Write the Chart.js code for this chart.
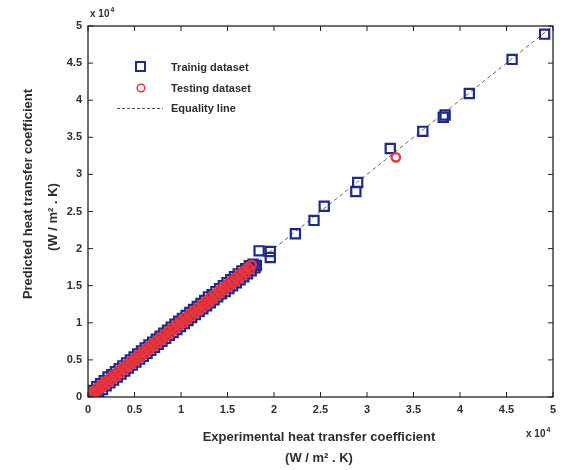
<!DOCTYPE html>
<html>
<head>
<meta charset="utf-8">
<script src="https://cdn.jsdelivr.net/npm/chart.js@4/dist/chart.umd.min.js"></script>
<style>
html,body{margin:0;padding:0;background:#fff;}
#wrap{width:563px;height:470px;position:relative;}
</style>
</head>
<body>
<div id="wrap"><canvas id="c" width="563" height="470"></canvas></div>
<script>
// Axis ticks (W/m2.K), labels shown in units of 10^4
const tickValues = [0, 5000, 10000, 15000, 20000, 25000, 30000, 35000, 40000, 45000, 50000];
const legendLabels = ["Trainig dataset", "Testing dataset", "Equality line"];
const xTitle = ["Experimental heat transfer coefficient", "(W / m\u00B2 . K)"];
const yTitle = ["Predicted heat transfer coefficient", "(W / m\u00B2 . K)"];

// Training dataset [experimental, predicted]
const trainingData = [
  [150,450],[350,50],[550,900],[750,300],[950,1400],[1150,700],[1350,1800],[1550,1000],
  [1750,2200],[1950,1500],[2150,2700],[2350,1900],[2550,3000],[2750,2300],[2950,3400],[3150,2700],
  [3350,3800],[3550,3100],[3750,4200],[3950,3500],[4150,4600],[4350,3900],[4550,5000],[4750,4300],
  [4950,5400],[5150,4700],[5350,5800],[5550,5100],[5750,6200],[5950,5500],[6150,6600],[6350,5900],
  [6550,7000],[6750,6300],[6950,7400],[7150,6700],[7350,7800],[7550,7100],[7750,8200],[7950,7500],
  [8150,8600],[8350,7900],[8550,9000],[8750,8300],[8950,9400],[9150,8700],[9350,9800],[9550,9100],
  [9750,10200],[9950,9500],[10150,10600],[10350,9900],[10550,11000],[10750,10300],[10950,11400],[11150,10700],
  [11350,11800],[11550,11100],[11750,12200],[11950,11500],[12150,12600],[12350,11900],[12550,13000],[12750,12300],
  [12950,13500],[13150,12700],[13350,13800],[13550,13100],[13750,14200],[13950,13500],[14150,14600],[14350,13900],
  [14550,15000],[14750,14200],[14950,15400],[15150,14600],[15350,15800],[15550,15000],[15750,16200],[15950,15400],
  [16150,16600],[16350,15800],[16550,17000],[16750,16200],[16950,17300],[17150,16600],[17350,17700],[17550,17000],
  [17750,17900],[17950,17400],[18100,17700],
  [18400,19700],[19600,19600],[19600,18800],[22300,22000],[24300,23800],[25400,25700],
  [28800,27700],[29000,28900],[32500,33500],[36000,35800],[38200,37700],[38400,38000],
  [41000,40900],[45600,45500],[49100,48900]
];
// Testing dataset [experimental, predicted]
const testingData = [
  [100,50],[250,400],[400,200],[600,750],[800,600],[1000,1250],[1200,1000],[1450,1700],
  [1650,1400],[1900,2150],[2100,1850],[2350,2600],[2550,2300],[2800,3050],[3000,2750],[3250,3500],
  [3450,3200],[3700,3950],[3900,3650],[4150,4400],[4350,4100],[4600,4850],[4800,4550],[5050,5300],
  [5250,5000],[5500,5750],[5700,5450],[5950,6200],[6150,5900],[6400,6650],[6600,6350],[6850,7100],
  [7050,6800],[7300,7550],[7500,7250],[7750,8000],[7950,7700],[8200,8450],[8400,8150],[8650,8900],
  [8850,8600],[9100,9350],[9300,9050],[9550,9800],[9750,9500],[10000,10250],[10200,9950],[10450,10700],
  [10650,10400],[10900,11150],[11100,10850],[11350,11600],[11550,11300],[11800,12050],[12000,11750],[12250,12500],
  [12450,12200],[12700,12950],[12900,12650],[13150,13400],[13350,13100],[13600,13850],[13800,13550],[14050,14300],
  [14250,14000],[14500,14750],[14700,14450],[14950,15200],[15150,14900],[15400,15650],[15600,15350],[15850,16100],
  [16050,15800],[16300,16550],[16500,16250],[16750,17000],[16950,16700],[17200,17450],[17400,17200],[17600,17800],
  [33100,32300]
];
// Equality line endpoints
const equalityLine = [[0,0],[50000,50000]];

const BLUE = "#1b2a8c", RED = "#e8343c", TXT = "#2e2e2e";
const FONT = "'Liberation Sans', Arial, sans-serif";
const toXY = a => a.map(p => ({x:p[0], y:p[1]}));

const decor = {
  id: "decor",
  afterDraw(chart) {
    const ctx = chart.ctx, a = chart.chartArea, sx = chart.scales.x, sy = chart.scales.y;
    ctx.save();
    ctx.strokeStyle = "#222"; ctx.lineWidth = 1.3;
    ctx.strokeRect(a.left, a.top, a.right - a.left, a.bottom - a.top);
    ctx.lineWidth = 1;
    tickValues.forEach(v => {
      const px = sx.getPixelForValue(v), py = sy.getPixelForValue(v);
      ctx.beginPath();
      ctx.moveTo(px, a.bottom); ctx.lineTo(px, a.bottom - 5);
      ctx.moveTo(px, a.top); ctx.lineTo(px, a.top + 5);
      ctx.moveTo(a.left, py); ctx.lineTo(a.left + 5, py);
      ctx.moveTo(a.right, py); ctx.lineTo(a.right - 5, py);
      ctx.stroke();
    });
    ctx.fillStyle = TXT;
    const expo = (x, y) => {
      ctx.font = "bold 10px " + FONT; ctx.textAlign = "left"; ctx.textBaseline = "alphabetic";
      ctx.fillText("x 10", x, y);
      const w = ctx.measureText("x 10").width;
      ctx.font = "bold 7px " + FONT;
      ctx.fillText("4", x + w + 1, y - 5);
    };
    expo(a.left + 2, a.top - 9);
    expo(a.right - 27, a.bottom + 40);
    ctx.font = "bold 13px " + FONT; ctx.textAlign = "center"; ctx.textBaseline = "middle";
    ctx.fillText(xTitle[0], 319, 437);
    ctx.fillText(xTitle[1], 319, 458);
    ctx.save();
    ctx.translate(28, 194); ctx.rotate(-Math.PI / 2);
    ctx.fillText(yTitle[0], 0, 0);
    ctx.restore();
    ctx.save();
    ctx.translate(53, 217); ctx.rotate(-Math.PI / 2);
    ctx.fillText(yTitle[1], 0, 0);
    ctx.restore();
    ctx.font = "bold 11px " + FONT; ctx.textAlign = "left"; ctx.textBaseline = "middle";
    ctx.fillStyle = TXT;
    ctx.strokeStyle = BLUE; ctx.lineWidth = 2;
    ctx.strokeRect(136, 62, 9, 9);
    ctx.fillText(legendLabels[0], 171, 68);
    ctx.strokeStyle = RED; ctx.lineWidth = 1.5;
    ctx.beginPath(); ctx.arc(141, 88, 3.8, 0, Math.PI * 2); ctx.stroke();
    ctx.fillText(legendLabels[1], 171, 89);
    ctx.strokeStyle = "#555"; ctx.lineWidth = 1; ctx.setLineDash([3, 2]);
    ctx.beginPath(); ctx.moveTo(117, 108.5); ctx.lineTo(163, 108.5); ctx.stroke();
    ctx.setLineDash([]);
    ctx.fillText(legendLabels[2], 171, 109);
    ctx.restore();
  }
};

new Chart(document.getElementById("c"), {
  type: "scatter",
  data: {
    datasets: [
      {
        label: legendLabels[2], type: "line", data: toXY(equalityLine),
        borderColor: "#666", borderWidth: 1, borderDash: [4, 3], pointRadius: 0, fill: false, order: 3
      },
      {
        label: legendLabels[0], data: toXY(trainingData),
        pointStyle: "rect", pointRadius: 6.5, borderWidth: 2.2,
        borderColor: BLUE, backgroundColor: "rgba(0,0,0,0)", order: 2
      },
      {
        label: legendLabels[1], data: toXY(testingData),
        pointStyle: "circle", pointRadius: 4.2, borderWidth: 2.4,
        borderColor: RED, backgroundColor: "rgba(0,0,0,0)", order: 1
      }
    ]
  },
  plugins: [decor],
  options: {
    responsive: false, animation: false, devicePixelRatio: 1,
    layout: { padding: { top: 26, right: 10, left: 0, bottom: 0 } },
    plugins: { legend: { display: false }, tooltip: { enabled: false } },
    scales: {
      x: {
        type: "linear", min: 0, max: 50000,
        afterBuildTicks: s => { s.ticks = tickValues.map(v => ({value: v})); },
        afterFit: s => { s.height = 73; },
        grid: { display: false, drawTicks: false }, border: { display: false },
        ticks: { padding: 6, color: TXT, font: { family: FONT, weight: "bold", size: 11 },
                 maxRotation: 0, callback: v => String(v / 10000) }
      },
      y: {
        type: "linear", min: 0, max: 50000,
        afterBuildTicks: s => { s.ticks = tickValues.map(v => ({value: v})); },
        afterFit: s => { s.width = 88; },
        grid: { display: false, drawTicks: false }, border: { display: false },
        ticks: { padding: 6, color: TXT, font: { family: FONT, weight: "bold", size: 11 },
                 callback: v => String(v / 10000) }
      }
    }
  }
});
</script>
</body>
</html>
